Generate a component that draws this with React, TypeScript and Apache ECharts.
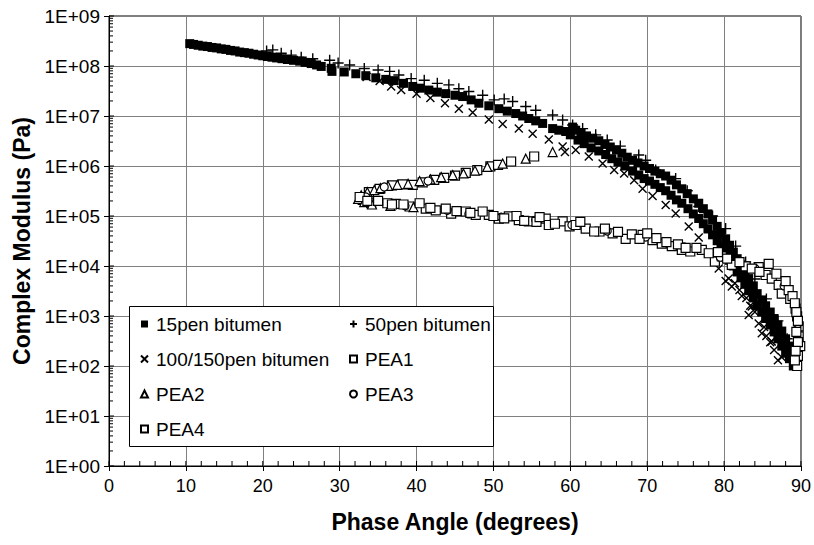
import React, { useEffect, useRef } from 'react';
import * as echarts from 'echarts';

// ---- Data (phase angle in degrees, complex modulus in Pa) ----
const bit15: number[][] = [
  [10.5, 2.8e8], [11.0, 2.7e8], [11.6, 2.6e8], [12.2, 2.5e8], [12.8, 2.45e8], [13.4, 2.35e8], [14.0, 2.3e8],
  [14.6, 2.2e8], [15.2, 2.15e8], [15.8, 2.05e8], [16.4, 2.0e8], [17.0, 1.9e8], [17.6, 1.85e8], [18.2, 1.8e8],
  [18.8, 1.72e8], [19.4, 1.66e8], [20.0, 1.6e8], [20.6, 1.55e8], [21.2, 1.5e8], [21.8, 1.45e8], [22.5, 1.4e8],
  [23.2, 1.35e8], [24.0, 1.3e8], [24.8, 1.25e8], [25.5, 1.18e8], [26.3, 1.12e8], [27.0, 1.05e8], [27.6, 9.8e7],
  [28.9, 9.0e7], [29.0, 7.8e7], [30.6, 7.6e7], [32.1, 7.0e7], [33.4, 6.4e7], [34.7, 5.8e7], [36.0, 5.4e7],
  [37.1, 5.1e7], [38.3, 4.5e7], [39.5, 3.9e7], [40.5, 3.6e7], [41.6, 3.3e7], [42.7, 3.0e7], [43.8, 2.8e7],
  [45.0, 2.6e7], [46.0, 2.45e7], [47.1, 2.1e7], [48.1, 1.8e7], [49.4, 1.6e7], [50.7, 1.4e7], [51.8, 1.25e7],
  [52.9, 1.12e7], [53.8, 1.0e7], [54.6, 8.9e6], [55.5, 8.0e6], [56.4, 7.1e6], [57.7, 5.6e6], [58.5, 5.2e6],
  [59.4, 4.9e6], [60.0, 4.2e6], [60.3, 6.0e6],
  [60.7, 5.2e6], [61.4, 4.6e6], [62.1, 4.0e6], [62.9, 3.6e6], [63.7, 3.2e6], [64.5, 2.7e6], [65.2, 2.4e6],
  [66.0, 2.1e6], [66.7, 1.8e6], [67.4, 1.5e6], [68.1, 1.3e6], [68.8, 1.15e6], [69.6, 1.0e6], [70.3, 8.9e5],
  [71.0, 7.9e5], [71.7, 7.0e5], [72.4, 6.3e5], [73.1, 5.2e5], [73.8, 4.2e5], [74.5, 3.5e5], [75.2, 2.8e5],
  [76.0, 2.2e5], [76.7, 1.8e5], [77.3, 1.4e5], [77.9, 1.1e5], [78.5, 8.3e4], [79.1, 6.2e4], [79.6, 4.6e4],
  [80.2, 3.5e4], [80.7, 2.6e4], [81.2, 1.9e4], [81.7, 1.4e4], [82.2, 1.05e4], [82.7, 7.6e3], [83.2, 5.6e3],
  [83.8, 4.0e3], [84.3, 2.8e3], [84.9, 2.1e3], [85.4, 1.6e3], [86.0, 1.2e3], [86.5, 8.9e2], [87.0, 6.6e2],
  [87.5, 5.0e2], [88.0, 3.5e2], [88.4, 2.5e2], [88.8, 1.7e2], [89.2, 1.1e2],
  [61.0, 3.3e6], [61.8, 2.8e6], [62.7, 2.3e6], [63.7, 2.0e6], [64.6, 1.7e6], [65.4, 1.4e6], [66.2, 1.2e6],
  [67.1, 1.0e6], [68.1, 7.9e5], [68.9, 6.6e5], [69.6, 5.6e5], [70.3, 5.0e5], [71.0, 4.3e5], [71.7, 3.7e5],
  [72.4, 3.2e5], [73.1, 2.6e5], [73.8, 2.1e5], [74.5, 1.8e5], [75.3, 1.4e5], [76.0, 1.1e5], [76.7, 8.9e4],
  [77.3, 7.0e4], [77.9, 5.5e4], [78.5, 4.2e4], [79.1, 3.2e4], [79.6, 2.4e4], [80.2, 1.8e4], [80.7, 1.3e4],
  [81.2, 1.0e4], [81.7, 7.6e3], [82.2, 5.8e3], [82.7, 4.3e3], [83.2, 3.2e3], [83.8, 2.3e3], [84.3, 1.6e3],
  [84.9, 1.2e3], [85.4, 8.9e2], [86.0, 6.6e2], [86.5, 4.8e2], [87.0, 3.5e2], [87.5, 2.5e2], [88.0, 1.8e2],
  [88.5, 1.4e2], [89.0, 1.0e2],
];

const bit50: number[][] = [
  [20.5, 2.0e8], [21.3, 2.1e8], [22.4, 1.8e8], [23.7, 1.65e8], [25.0, 1.5e8], [26.5, 1.4e8], [28.7, 1.3e8],
  [29.8, 1.15e8], [31.3, 1.05e8], [33.2, 8.9e7], [35.0, 8.3e7], [36.5, 7.8e7], [37.7, 6.6e7], [39.3, 5.6e7],
  [41.0, 5.2e7], [42.7, 4.5e7], [44.2, 4.2e7], [45.5, 3.5e7], [46.8, 3.1e7], [48.6, 2.6e7], [50.1, 2.1e7],
  [51.4, 2.2e7], [52.5, 1.95e7], [54.2, 1.55e7], [55.5, 1.3e7], [57.7, 1.05e7], [59.0, 8.3e6], [60.3, 6.6e6],
  [61.6, 5.6e6], [63.3, 4.2e6], [64.8, 3.3e6], [66.5, 2.5e6], [68.9, 1.66e6], [69.8, 1.3e6], [71.1, 8.3e5],
  [73.7, 5.6e5], [75.2, 3.2e5], [76.7, 1.55e5], [78.5, 1.0e5], [80.2, 5.6e4], [81.5, 2.5e4], [82.8, 1.2e4],
  [84.0, 5.5e3], [85.5, 2.2e3], [87.0, 8.0e2], [88.2, 3.5e2], [89.0, 1.6e2],
];

const bit100: number[][] = [
  [33.5, 6.0e7], [35.2, 5.0e7], [36.7, 3.9e7], [38.0, 3.3e7], [40.0, 2.8e7], [41.8, 2.3e7], [43.7, 1.8e7],
  [45.5, 1.4e7], [47.3, 1.17e7], [49.4, 8.5e6], [51.2, 6.9e6], [53.3, 5.6e6], [55.1, 4.4e6], [57.2, 3.4e6],
  [59.0, 2.45e6], [59.3, 1.9e6], [60.7, 2.1e6], [62.4, 1.55e6], [64.2, 1.12e6], [65.7, 8.3e5], [67.0, 7.1e5],
  [68.3, 5.2e5], [69.4, 3.5e5], [70.7, 2.5e5], [72.4, 1.66e5], [73.7, 1.12e5], [75.4, 6.2e4], [76.7, 3.7e4],
  [78.0, 1.8e4], [79.3, 8.9e3], [80.2, 5.0e3], [80.6, 5.6e3], [81.0, 3.9e3], [81.4, 4.5e3], [82.0, 3.3e3],
  [82.3, 2.5e3], [82.9, 2.3e3], [83.2, 1.05e3], [83.4, 1.6e3], [83.6, 1.55e3], [84.0, 1.2e3], [84.5, 7.1e2],
  [84.9, 4.5e2], [85.2, 6.0e2], [85.5, 4.0e2], [86.0, 3.0e2], [86.2, 3.1e2], [86.5, 2.1e2], [87.0, 1.3e2],
  [87.5, 1.5e2], [88.2, 1.8e2],
];

const pea1: number[][] = [
  [33.8, 3.0e5], [35.2, 3.5e5], [36.8, 4.1e5], [38.2, 4.3e5], [39.5, 4.2e5], [40.8, 4.7e5], [42.3, 5.3e5],
  [43.6, 5.8e5], [45.0, 6.4e5], [46.4, 7.3e5], [47.9, 8.3e5], [49.6, 9.8e5], [50.6, 1.05e6], [52.3, 1.23e6],
  [55.3, 1.55e6],
  [33.0, 2.1e5], [34.1, 1.8e5], [36.2, 1.8e5], [37.3, 1.75e5], [39.1, 1.55e5], [41.2, 1.4e5], [42.5, 1.3e5],
  [44.5, 1.12e5], [46.4, 1.23e5], [47.7, 1.05e5], [49.4, 1.05e5], [50.7, 8.9e4], [52.0, 9.8e4], [53.3, 8.3e4],
  [54.6, 7.8e4], [56.8, 8.9e4], [57.2, 6.6e4], [59.0, 7.8e4], [59.9, 6.2e4], [62.0, 5.6e4], [63.8, 4.9e4],
  [65.5, 4.5e4], [67.2, 3.5e4], [69.4, 4.2e4], [70.7, 3.3e4], [71.9, 2.8e4], [73.2, 2.5e4], [74.5, 2.1e4],
  [75.6, 1.95e4], [77.1, 2.1e4], [78.8, 1.23e4], [79.7, 1.55e4], [81.0, 1.05e4], [82.8, 9.8e3], [84.5, 9.5e3],
  [85.4, 6.6e3], [86.2, 5.6e3], [87.1, 4.2e3], [87.5, 2.8e3], [88.6, 2.2e3], [89.3, 1.4e3], [89.5, 9.8e2],
  [89.7, 6.2e2], [89.7, 3.9e2], [89.9, 2.5e2], [89.6, 1.6e2], [89.5, 1.0e2],
];

const pea2: number[][] = [
  [32.4, 2.2e5], [32.8, 2.6e5], [33.2, 1.9e5], [33.6, 3.0e5], [34.2, 1.7e5], [34.5, 3.3e5], [35.3, 3.6e5],
  [36.3, 4.0e5], [36.6, 1.6e5], [37.5, 4.2e5], [38.9, 4.4e5], [39.6, 1.5e5], [40.4, 5.0e5], [41.8, 5.4e5],
  [43.2, 6.0e5], [44.7, 6.6e5], [46.1, 7.1e5], [47.6, 8.1e5], [49.2, 9.6e5], [51.2, 1.12e6], [54.2, 1.4e6],
  [57.7, 1.9e6],
];

const pea3: number[][] = [
  [33.4, 2.4e5], [35.8, 3.8e5], [38.5, 1.6e5], [41.5, 5.0e5], [44.0, 1.3e5], [46.8, 1.1e5], [51.0, 9.5e4],
  [55.5, 8.3e4], [60.2, 6.6e4], [64.8, 5.0e4], [69.8, 3.8e4], [74.8, 2.4e4], [79.5, 1.5e4], [84.0, 9.0e3],
  [87.8, 4.0e3], [89.6, 7.0e2],
];

const pea4: number[][] = [
  [32.6, 2.4e5], [33.6, 2.0e5], [35.0, 2.0e5], [36.8, 1.7e5], [38.3, 1.7e5], [40.4, 1.8e5], [41.8, 1.45e5],
  [43.8, 1.4e5], [45.2, 1.25e5], [47.0, 1.15e5], [48.6, 1.23e5], [50.0, 1.0e5], [51.4, 9.0e4], [53.0, 1.0e5],
  [54.0, 8.0e4], [55.6, 7.6e4], [56.0, 9.5e4], [58.0, 7.0e4], [60.7, 6.6e4], [61.3, 7.6e4], [63.1, 4.9e4],
  [64.5, 5.6e4], [66.2, 4.8e4], [68.0, 4.3e4], [69.0, 3.5e4], [70.0, 4.5e4], [71.2, 3.6e4], [72.5, 3.0e4],
  [74.0, 2.7e4], [75.0, 2.3e4], [76.4, 2.3e4], [78.0, 1.8e4], [79.2, 1.9e4], [80.4, 1.4e4], [82.0, 1.2e4],
  [83.6, 8.9e3], [84.6, 7.6e3], [85.8, 1.1e4], [86.8, 7.0e3], [88.0, 5.0e3], [88.4, 3.3e3], [88.9, 2.5e3],
  [89.2, 1.8e3], [89.4, 1.2e3], [89.6, 8.0e2], [89.4, 4.8e2], [89.6, 3.0e2], [89.3, 2.0e2], [89.2, 1.3e2],
];

const seriesNames = ['15pen bitumen', '50pen bitumen', '100/150pen bitumen', 'PEA1', 'PEA2', 'PEA3', 'PEA4'];
const yTickLabels = ['1E+00', '1E+01', '1E+02', '1E+03', '1E+04', '1E+05', '1E+06', '1E+07', '1E+08', '1E+09'];
const xTicks = [0, 10, 20, 30, 40, 50, 60, 70, 80, 90];

const FONT = 'Arial, "Liberation Sans", sans-serif';
const CROSS = 'path://M0,0L10,10M10,0L0,10';
const PLUS = 'path://M5,0L5,10M0,5L10,5';

function buildTickData() {
  const d: number[][] = [];
  for (let i = 0; i < xTicks.length; i++) {
    d.push([xTicks[i], 1, 0]);
    if (i < xTicks.length - 1) {
      for (let k = 1; k < 5; k++) d.push([xTicks[i] + k * 2, 1, 1]);
    }
  }
  for (let e = 0; e < yTickLabels.length; e++) {
    const base = Math.pow(10, e);
    d.push([0, base, 2]);
    if (e < yTickLabels.length - 1) {
      for (let m = 2; m <= 9; m++) d.push([0, m * base, 3]);
    }
  }
  return d;
}

export default function App() {
  const ref = useRef<HTMLDivElement>(null);
  useEffect(() => {
    const chart = echarts.init(ref.current!, null, { renderer: 'svg' });
    const hollow = { color: '#fff', borderColor: '#000', borderWidth: 1.2, opacity: 1 };
    const solid = { color: '#000', borderColor: '#000', borderWidth: 1.4, opacity: 1 };
    const legendText = { fontSize: 19, lineHeight: 20, fontFamily: FONT, color: '#000', padding: [0, 0, 0, 3] };
    const common = { type: 'scatter', emphasis: { disabled: true } };
    chart.setOption({
      animation: false,
      backgroundColor: '#fff',
      grid: { left: 109, top: 16, right: 11, bottom: 79, show: true, borderColor: '#000', borderWidth: 1, backgroundColor: 'transparent' },
      xAxis: {
        type: 'value', min: 0, max: 90, interval: 10,
        name: 'Phase Angle (degrees)', nameLocation: 'middle', nameGap: 44,
        nameTextStyle: { fontSize: 23, fontWeight: 'bold', fontFamily: FONT, color: '#000' },
        axisLine: { lineStyle: { color: '#000', width: 1 } },
        axisTick: { show: true, inside: false, length: 5, lineStyle: { color: '#000' } },
        axisLabel: { fontSize: 18, fontFamily: FONT, color: '#000', margin: 11 },
        splitLine: { show: true, lineStyle: { color: '#808080', width: 1 } },
      },
      yAxis: {
        type: 'log', logBase: 10, min: 1, max: 1e9, interval: 1,
        name: 'Complex Modulus (Pa)', nameLocation: 'middle', nameGap: 76, nameRotate: 90,
        nameTextStyle: { fontSize: 23, fontWeight: 'bold', fontFamily: FONT, color: '#000' },
        axisLine: { show: true, lineStyle: { color: '#000', width: 1 } },
        axisTick: { show: true, inside: false, length: 5, lineStyle: { color: '#000' } },
        axisLabel: {
          fontSize: 19, fontFamily: FONT, color: '#000', margin: 9,
          formatter: (v: number) => yTickLabels[Math.round(Math.log10(v))],
        },
        splitLine: { show: true, lineStyle: { color: '#808080', width: 1 } },
      },
      legend: [
        {
          data: [seriesNames[0], seriesNames[2], seriesNames[4], seriesNames[6]],
          orient: 'vertical', left: 135, top: 309, itemWidth: 7, itemHeight: 7, itemGap: 15,
          textStyle: legendText, selectedMode: false,
        },
        {
          data: [seriesNames[1], seriesNames[3], seriesNames[5]],
          orient: 'vertical', left: 344, top: 309, itemWidth: 7, itemHeight: 7, itemGap: 15,
          textStyle: legendText, selectedMode: false,
        },
      ],
      graphic: [
        {
          type: 'rect', z: 3,
          shape: { x: 129.5, y: 306.5, width: 364, height: 140 },
          style: { fill: '#fff', stroke: '#000', lineWidth: 1 },
        },
      ],
      series: [
        { ...common, name: seriesNames[0], data: bit15, symbol: 'rect', symbolSize: 9, itemStyle: { color: '#000', opacity: 1 } },
        { ...common, name: seriesNames[1], data: bit50, symbol: PLUS, symbolSize: 11, itemStyle: solid },
        { ...common, name: seriesNames[2], data: bit100, symbol: CROSS, symbolSize: 8, itemStyle: solid },
        { ...common, name: seriesNames[3], data: pea1, symbol: 'rect', symbolSize: 9, itemStyle: hollow },
        { ...common, name: seriesNames[4], data: pea2, symbol: 'triangle', symbolSize: 9, itemStyle: hollow },
        { ...common, name: seriesNames[5], data: pea3, symbol: 'circle', symbolSize: 8, itemStyle: hollow },
        { ...common, name: seriesNames[6], data: pea4, symbol: 'rect', symbolSize: 9, itemStyle: hollow },
        {
          type: 'custom', silent: true, z: 5, clip: false,
          data: buildTickData(),
          renderItem: (_p: any, api: any) => {
            const pt = api.coord([api.value(0), api.value(1)]);
            const k = api.value(2);
            let shape;
            if (k === 0 || k === 1) shape = { x1: pt[0], y1: pt[1], x2: pt[0], y2: pt[1] - 5 };
            else if (k === 2) shape = { x1: pt[0], y1: pt[1], x2: pt[0] + 5, y2: pt[1] };
            else shape = { x1: pt[0], y1: pt[1], x2: pt[0] + 4, y2: pt[1] };
            return { type: 'line', shape, style: { stroke: '#000', lineWidth: 1 } };
          },
        },
      ],
    });
    return () => chart.dispose();
  }, []);
  return <div ref={ref} style={{ position: 'fixed', left: 0, top: 0, width: 814, height: 545 }} />;
}
